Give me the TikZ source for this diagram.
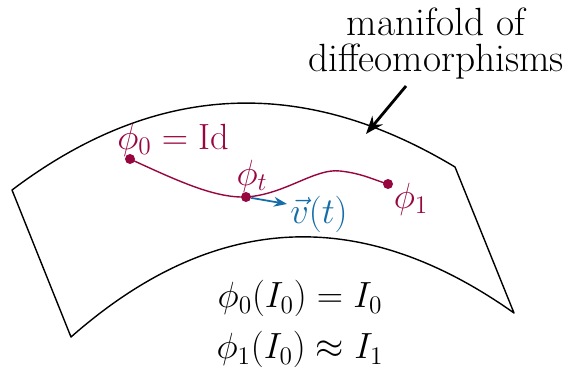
\documentclass[tikz,border=0pt]{standalone}
\usepackage{amsmath,amssymb}
\usetikzlibrary{arrows.meta,positioning}
\definecolor{maroon}{RGB}{152,6,64}
\definecolor{vblue}{RGB}{20,108,168}
\tikzset{>=Stealth,every node/.style={font=\fontsize{20}{24}\selectfont},big/.style={font=\fontsize{22.4}{20.5}\selectfont,inner sep=1pt},dot/.style={circle,fill=maroon,inner sep=0pt,minimum size=.2cm},path/.style={maroon,line width=.8pt}}
\begin{document}
\begin{tikzpicture}
\useasboundingbox (0,0) rectangle (11.38,7.44);
\draw[line width=.8pt,line join=round] (.24,3.64) .. controls (3.10,5.80) and (6.04,5.94) .. (9.10,4.10) -- (10.28,1.18) .. controls (7.20,3.36) and (4.26,3.20) .. (1.42,.70) -- cycle;
\node[dot] (p0) at (2.60,4.26) {};\node[dot] (pt) at (4.92,3.50) {};\node[dot] (p1) at (7.76,3.76) {};
\draw[path] (p0.center) .. controls (3.60,3.80) and (4.30,3.48) .. (pt.center) .. controls (5.70,3.55) and (6.30,4.08) .. (6.80,4.02) .. controls (7.25,3.97) and (7.45,3.85) .. (p1.center);
\coordinate (vend) at (5.74,3.36);
\draw[->,vblue,line width=1pt] (pt) -- (vend);
\node[maroon,big] (l0) at (3.46,4.64) {$\phi_0=\mathrm{Id}$};
\node[maroon] (lt) at (5.04,3.92) {$\phi_t$};
\node[maroon] (l1) at (8.22,3.46) {$\phi_1$};
\node[vblue] (lv) at (6.38,3.16) {$\vec{v}(t)$};
\node[big,align=center] (manif) at (8.72,6.56) {manifold of\\diffeomorphisms};
\coordinate (tip) at (7.32,4.76);
\draw[->,line width=1.6pt] (8.12,5.72) -- (tip);
\node[align=center] (eqs) at (6.0,.96) {$\phi_0(I_0)=I_0$\\[5pt]$\phi_1(I_0)\approx I_1$};
\end{tikzpicture}
\end{document}
